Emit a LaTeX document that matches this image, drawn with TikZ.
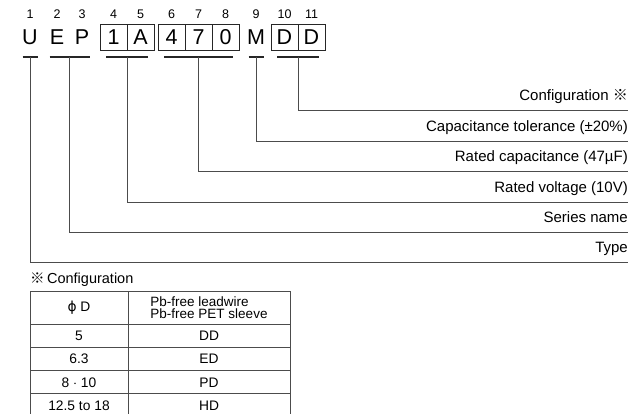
\documentclass[tikz,border=0pt]{standalone}
\usepackage{fontspec}
\setmainfont{Liberation Sans}
\newfontfamily\cjk{Noto Sans CJK JP}
\newfontfamily\dejavu{DejaVu Sans}
\usepackage{tikz}
\usetikzlibrary{positioning,calc}

\begin{document}
\begin{tikzpicture}[x=1pt,y=-1pt,
    num/.style={inner sep=0pt, font=\fontsize{12.5}{12.5}\selectfont},
    chr/.style={inner sep=0pt, outer sep=0pt, minimum width=27pt, minimum height=26pt,
                font=\fontsize{21.5}{21.5}\selectfont},
    boxed/.style={chr, draw=black!85, line width=0.9pt},
    bar/.style={line width=2.4pt, black!85},
    lead/.style={line width=0.9pt, black!70},
    desc/.style={anchor=base east, inner sep=0pt, font=\fontsize{15}{15}\selectfont},
    cell/.style={draw=black!70, line width=0.9pt, inner sep=0pt, outer sep=0pt,
                 anchor=north west, font=\fontsize{13.8}{13.8}\selectfont},
  ]
  \useasboundingbox (0,0) rectangle (644,414);

  % part number characters
  \node[chr] (c1) at (30,37) {U};
  \node[chr] (c2) at (57,37) {E};
  \node[chr] (c3) at (82,37) {P};
  \node[boxed] (c4) at (113.5,37) {1};
  \node[boxed, right=0pt of c4] (c5) {A};
  \node[boxed] (c6) at (171.5,37) {4};
  \node[boxed, right=0pt of c6] (c7) {7};
  \node[boxed, right=0pt of c7] (c8) {0};
  \node[chr] (c9) at (256,37) {M};
  \node[boxed] (c10) at (284.5,37) {D};
  \node[boxed, right=0pt of c10] (c11) {D};

  % digit positions
  \foreach \i in {1,...,11}
    \node[num, above=5pt of c\i] (n\i) {\i};

  % underline bars
  \foreach \a/\b/\k in {c1/c1/1, c2/c3/2, c4/c5/3, c6/c8/4, c9/c9/5, c10/c11/6}
    \draw[bar] ([xshift=6pt,yshift=-7pt]\a.south west) -- coordinate (b\k)
               ([xshift=-6pt,yshift=-7pt]\b.south east);

  % descriptions and leads
  \foreach \k/\y/\t in {6/110/{Configuration {\cjk ※}},
                        5/141/{Capacitance tolerance (±20\%)},
                        4/171/{Rated capacitance (47µF)},
                        3/202/{Rated voltage (10V)},
                        2/232/{Series name},
                        1/262/{Type}} {
    \coordinate (e\k) at (628,\y);
    \node[desc] (d\k) at ([yshift=9.5pt]e\k) {\t};
    \draw[lead] (b\k) |- (e\k);
  }

  % configuration table
  \node[anchor=west, inner sep=0pt, font=\fontsize{14.5}{14.5}\selectfont] (ttl) at (30,280)
    {{\cjk ※}\,Configuration};
  \node[cell, minimum width=98pt, minimum height=33pt] (h1) at (30,291) {{\dejavu ϕ} D};
  \node[cell, minimum width=162pt, minimum height=33pt, right=0pt of h1, align=left,
        font=\fontsize{13.5}{12.5}\selectfont] (h2) {Pb-free leadwire\\Pb-free PET sleeve};
  \foreach \a/\b [count=\r] in {5/DD, 6.3/ED, {8 $\cdot$ 10}/PD, {12.5 to 18}/HD} {
    \node[cell, minimum width=98pt, minimum height=23.3pt] (l\r) at (30,{324+23.3*(\r-1)}) {\a};
    \node[cell, minimum width=162pt, minimum height=23.3pt, right=0pt of l\r] (r\r) {\b};
  }
\end{tikzpicture}
\end{document}
